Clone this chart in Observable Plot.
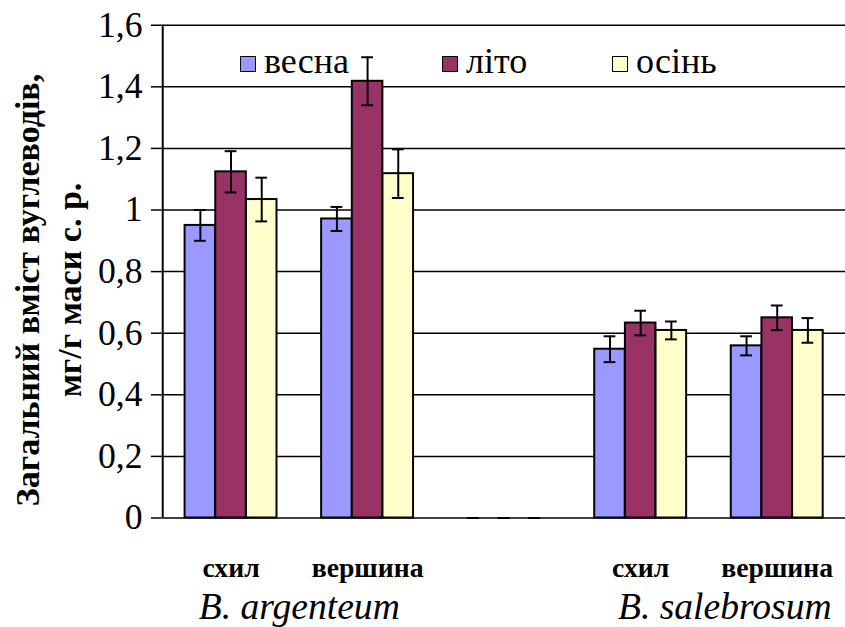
<!DOCTYPE html>
<html>
<head>
<meta charset="utf-8">
<script src="https://cdn.jsdelivr.net/npm/d3@7"></script>
<script src="https://cdn.jsdelivr.net/npm/@observablehq/plot@0.6"></script>
<style>
  body { margin: 0; background: #fff; }
  #wrap { position: relative; width: 845px; height: 627px; overflow: hidden; }
  #wrap svg { position: absolute; left: 0; top: 0; }
  .ytitle { position: absolute; left: -201px; top: 248px; width: 500px; height: 84px; transform: rotate(-90deg);
            text-align: center; font-weight: bold; font-size: 34px; line-height: 42px; color: #000; }
  .lg-sq { position: absolute; width: 14px; height: 14px; border: 1.5px solid #000; top: 56px; }
  .lg-tx { position: absolute; font-size: 36px; line-height: 36px; top: 43px; color: #000; white-space: nowrap; }
</style>
</head>
<body>
<div id="wrap"></div>
<script>
// ---- data ----
const groups = ["g1", "g2", "g3", "g4", "g5"];
const groupLabels = ["схил", "вершина", "", "схил", "вершина"];
const seasons = ["весна", "літо", "осінь"];
const seasonColors = ["#9999FF", "#993366", "#FFFFCC"];
const springValues = [0.95, 0.971, 0, 0.548, 0.559];
const springErrors = [0.05, 0.039, 0, 0.042, 0.031];
const summerValues = [1.124, 1.418, 0, 0.633, 0.65];
const summerErrors = [0.067, 0.078, 0, 0.04, 0.04];
const autumnValues = [1.034, 1.118, 0, 0.609, 0.609];
const autumnErrors = [0.071, 0.079, 0, 0.029, 0.04];
const yTicks = [0, 0.2, 0.4, 0.6, 0.8, 1.0, 1.2, 1.4, 1.6];
const speciesNames = ["B. argenteum", "B. salebrosum"];
const speciesAnchor = ["g2", "g5"];
const yTitle = ["Загальний вміст вуглеводів,", "мг/г маси с. р."];

// ---- table ----
const valuesBySeason = [springValues, summerValues, autumnValues];
const errorsBySeason = [springErrors, summerErrors, autumnErrors];
const rows = [];
seasons.forEach((s, si) => groups.forEach((g, gi) => rows.push({
  group: g, season: s, si, value: valuesBySeason[si][gi],
  lo: valuesBySeason[si][gi] - errorsBySeason[si][gi],
  hi: valuesBySeason[si][gi] + errorsBySeason[si][gi]
})));

// ---- layout ----
const fam = ["Liberation", "Serif"].join(" ");
const FONT = `"${fam}", monospace`;
const setFont = el => { el.style.fontFamily = FONT; };
const W = 854, H = 627, mL = 163.5, mR = 0, mT = 25, mB = 104;
const step = (W - mL - mR) / groups.length;
const barW = 31;
const pad = (step - seasons.length * barW) / 2;
const capHalf = 6;
const speciesDx = [-step / 2, -53];
const fmt = d => String(d).replace(".", ",");

const marks = [
  Plot.ruleY(yTicks, {y: d => d, stroke: "#000", strokeWidth: 1.5}),
  Plot.axisY({ticks: yTicks, tickSize: 11, tickPadding: 9, tickFormat: fmt, fontSize: 36, label: null, strokeWidth: 1.5}),
  Plot.ruleX([groups[0]], {x: d => d, y1: 0, y2: 1.6, dx: -step / 2, stroke: "#000", strokeWidth: 2})
];
seasons.forEach((s, si) => {
  const d = rows.filter(r => r.si === si);
  marks.push(Plot.barY(d, {
    x: "group", y: "value", fill: seasonColors[si], stroke: "#000", strokeWidth: 2,
    insetLeft: pad + si * barW, insetRight: step - pad - (si + 1) * barW
  }));
});
seasons.forEach((s, si) => {
  const d = rows.filter(r => r.si === si);
  const c = pad + si * barW + barW / 2;
  marks.push(Plot.ruleX(d, {x: "group", y1: "lo", y2: "hi", dx: c - step / 2, stroke: "#000", strokeWidth: 2}));
  marks.push(Plot.tickY(d, {x: "group", y: "hi", stroke: "#000", strokeWidth: 2, insetLeft: c - capHalf, insetRight: step - c - capHalf}));
  marks.push(Plot.tickY(d, {x: "group", y: "lo", stroke: "#000", strokeWidth: 2, insetLeft: c - capHalf, insetRight: step - c - capHalf}));
});
marks.push(Plot.text(groups, {x: d => d, text: (d, i) => groupLabels[i], frameAnchor: "bottom", lineAnchor: "middle", dy: 51, fontSize: 28, fontWeight: "bold", fill: "#000"}));
speciesNames.forEach((name, i) => {
  marks.push(Plot.text([name], {x: () => speciesAnchor[i], text: d => d, dx: speciesDx[i], frameAnchor: "bottom", lineAnchor: "middle", dy: 90, fontSize: 38, fontStyle: "italic", fill: "#000"}));
});

const chart = Plot.plot({
  width: W, height: H, marginLeft: mL, marginRight: mR, marginTop: mT, marginBottom: mB,
  style: {color: "#000", background: "transparent", overflow: "visible"},
  x: {type: "band", domain: groups, paddingInner: 0, paddingOuter: 0, axis: null},
  y: {domain: [0, 1.6], axis: null},
  marks
});
setFont(chart);
chart.querySelectorAll("g, text, tspan").forEach(setFont);
const wrap = document.getElementById("wrap");
setFont(wrap);
wrap.appendChild(chart);

// y title
const t = document.createElement("div");
t.className = "ytitle";
setFont(t);
t.innerHTML = yTitle.join("<br>");
wrap.appendChild(t);

// legend
const sqLeft = [240, 442, 612];
seasons.forEach((s, i) => {
  const sq = document.createElement("div");
  sq.className = "lg-sq";
  sq.style.left = sqLeft[i] + "px";
  sq.style.background = seasonColors[i];
  wrap.appendChild(sq);
  const tx = document.createElement("div");
  tx.className = "lg-tx";
  setFont(tx);
  tx.style.left = (sqLeft[i] + 24) + "px";
  tx.textContent = s;
  wrap.appendChild(tx);
});
</script>
</body>
</html>
